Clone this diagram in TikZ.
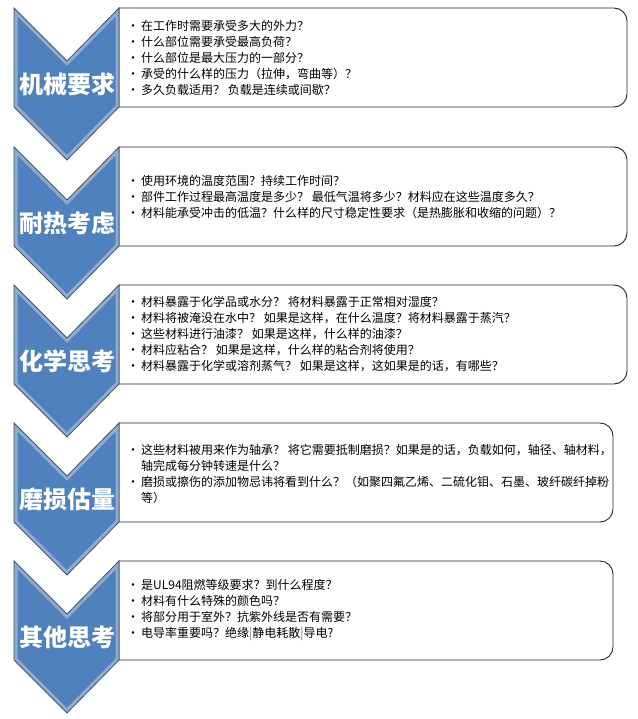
\documentclass[tikz,border=0pt]{standalone}
\usepackage{fontspec}
\setmainfont{Noto Sans CJK SC}
\definecolor{chevblue}{RGB}{79,129,189}
\definecolor{chevedge}{RGB}{70,80,95}
\newcommand{\bul}{\makebox[14pt][l]{\textbullet}}
\newcommand{\bulindent}{\hspace*{14pt}}
\begin{document}
\begin{tikzpicture}[x=1pt,y=1pt,
    textbox/.style={draw=black!85, line width=0.9pt, fill=white},
    chevlabel/.style={text=white, font=\fontsize{24}{24}\selectfont\bfseries, inner sep=0pt},
    boxtext/.style={anchor=west, align=left, inner sep=0pt, font=\fontsize{12}{16}\selectfont}]

        \useasboundingbox (0,0) rectangle (637,-719);

        % text boxes, rounded on the right side only
        \foreach \t/\r in {8/627, 147/627, 285/627, 423/613, 561/613} {
            \draw[textbox] (119,-\t) -- ({\r-13},-\t)
                arc[start angle=90, end angle=0, radius=13] -- (\r,-\t-86)
                arc[start angle=0, end angle=-90, radius=13] -- (119,-\t-99) -- cycle;
        }

        % chevrons
        \foreach \t/\lab/\nm in {8/机械要求/mech, 147/耐热考虑/heat, 285/化学思考/chem,
                                 423/磨损估量/wear, 561/其他思考/other} {
            \begin{scope}
                \clip (14,-\t) -- (67,-\t-53) -- (119,-\t) -- (119,-\t-99) -- (67,-\t-152) -- (14,-\t-99) -- cycle;
                \fill[chevblue] (14,-\t) -- (67,-\t-53) -- (119,-\t) -- (119,-\t-99) -- (67,-\t-152) -- (14,-\t-99) -- cycle;
                \draw[white, opacity=0.35, line width=7pt] (14,-\t) -- (67,-\t-53) -- (119,-\t) -- (119,-\t-99) -- (67,-\t-152) -- (14,-\t-99) -- cycle;
            \end{scope}
            \draw[chevedge, line width=0.8pt] (14,-\t) -- (67,-\t-53) -- (119,-\t) -- (119,-\t-99) -- (67,-\t-152) -- (14,-\t-99) -- cycle;
            \node[chevlabel] (\nm) at (67,-\t-76) {\lab};
        }

        \node[boxtext] (mechtext) at (127,-58) {%
            \bul 在工作时需要承受多大的外力？\\
            \bul 什么部位需要承受最高负荷？\\
            \bul 什么部位是最大压力的一部分？\\
            \bul 承受的什么样的压力（拉伸，弯曲等）？\\
            \bul 多久负载适用？ 负载是连续或间歇？};

        \node[boxtext] (heattext) at (127,-197) {%
            \bul 使用环境的温度范围？持续工作时间？\\
            \bul 部件工作过程最高温度是多少？ 最低气温将多少？材料应在这些温度多久？\\
            \bul 材料能承受冲击的低温？什么样的尺寸稳定性要求（是热膨胀和收缩的问题）？};

        \node[boxtext] (chemtext) at (127,-334) {%
            \bul 材料暴露于化学品或水分？ 将材料暴露于正常相对湿度？\\
            \bul 材料将被淹没在水中？ 如果是这样，在什么温度？将材料暴露于蒸汽？\\
            \bul 这些材料进行油漆？ 如果是这样，什么样的油漆？\\
            \bul 材料应粘合？ 如果是这样，什么样的粘合剂将使用？\\
            \bul 材料暴露于化学或溶剂蒸气？ 如果是这样，这如果是的话，有哪些？};

        \node[boxtext] (weartext) at (127,-474) {%
            \bul 这些材料被用来作为轴承？ 将它需要抵制磨损？如果是的话，负载如何，轴径、轴材料，\\
            \bulindent 轴完成每分钟转速是什么？\\
            \bul 磨损或擦伤的添加物忌讳将看到什么？（如聚四氟乙烯、二硫化钼、石墨、玻纤碳纤掉粉\\
            \bulindent 等）};

        \node[boxtext] (othertext) at (127,-610) {%
            \bul 是UL94阻燃等级要求？到什么程度？\\
            \bul 材料有什么特殊的颜色吗？\\
            \bul 将部分用于室外？抗紫外线是否有需要？\\
            \bul 电导率重要吗？绝缘{\color{gray}|}静电耗散{\color{gray}|}导电?};

\end{tikzpicture}
\end{document}
